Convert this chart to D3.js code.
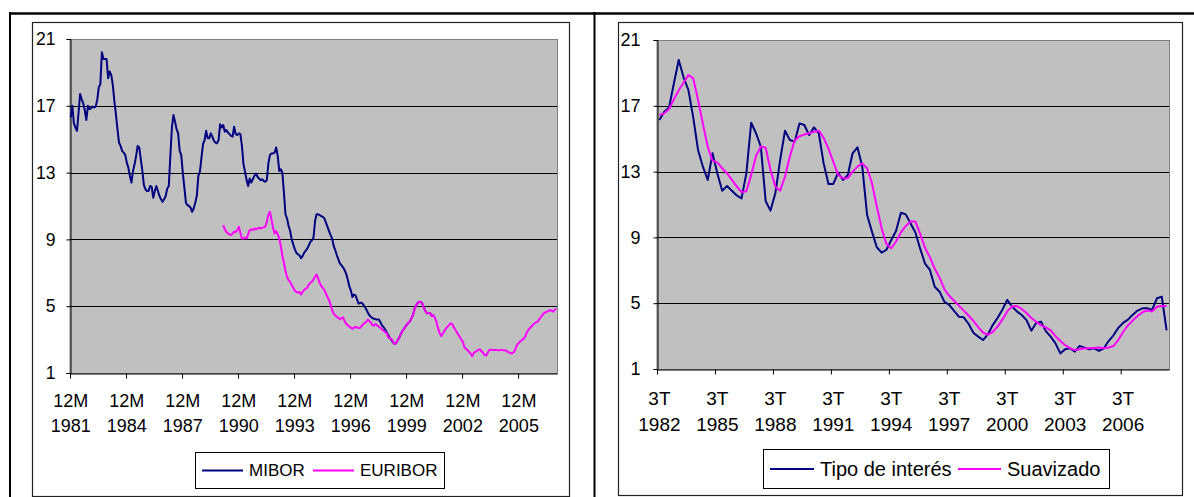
<!DOCTYPE html>
<html>
<head>
<meta charset="utf-8">
<script src="https://cdnjs.cloudflare.com/ajax/libs/d3/7.8.5/d3.min.js"></script>
<style>
  body { margin: 0; background: #fff; }
  svg { display: block; }
  text { font-family: "Liberation Sans", Arial, sans-serif; fill: #000; }
</style>
</head>
<body>
<svg id="c" width="1194" height="497"></svg>
<script>
// Monthly 12-month rates, starting December 1981
const mibor = [
  16.3,17.0,15.95,15.7,15.5,16.6,17.7,17.4,17.15,16.75,16.15,17.0,
  16.8,16.85,16.95,16.9,16.95,17.35,18.1,18.3,20.2,19.8,19.8,19.8,
  18.65,19.05,18.85,18.25,17.3,16.5,15.6,14.8,14.6,14.3,14.2,14.05,
  13.6,13.3,12.8,12.4,13.1,13.5,14.0,14.6,14.5,13.8,13.1,12.25,
  12.0,11.9,11.9,12.2,12.15,11.5,11.9,12.2,11.9,11.6,11.4,11.25,
  11.4,11.6,12.05,12.2,14.0,15.7,16.45,16.05,15.6,15.35,14.3,14.05,
  13.0,12.1,11.2,11.05,11.0,10.9,10.65,10.85,11.2,11.6,12.8,13.05,
  13.9,14.7,14.95,15.5,15.05,15.05,15.35,15.15,14.9,14.8,14.75,14.95,
  15.9,15.7,15.85,15.45,15.55,15.4,15.3,15.2,15.15,15.75,15.3,15.25,
  15.35,15.3,14.6,13.5,13.05,12.55,12.2,12.65,12.4,12.6,12.8,12.95,
  12.75,12.65,12.55,12.6,12.5,12.45,12.55,13.55,14.05,14.15,14.15,14.2,
  14.5,14.0,13.1,13.2,13.0,11.8,10.5,10.25,9.8,9.5,9.0,8.7,
  8.4,8.2,8.1,8.05,7.87,8.0,8.2,8.33,8.45,8.65,8.85,8.95,
  9.1,10.1,10.5,10.5,10.45,10.4,10.35,10.25,10.0,9.75,9.5,9.25,
  9.05,8.6,8.35,8.05,7.8,7.55,7.45,7.33,7.15,6.95,6.6,6.2,
  5.95,5.55,5.7,5.65,5.4,5.15,5.2,5.2,5.1,4.95,4.8,4.6,
  4.45,4.35,4.28,4.25,4.22,4.2,4.2,4.05,3.85,3.75,3.6,3.45,
  3.27,3.1,3.0,2.85,2.74,2.78,2.95,3.1,3.3,3.5,3.62,3.77,
  3.9,4.0,4.1,4.27,4.5,4.85,5.05,5.2,5.27,5.25,5.15,4.9,
  4.7,4.57,4.6,4.58,4.41,4.47
];

// EURIBOR begins 98 months after December 1981
const euriborStart = 98;
const euribor = [
  9.85,9.6,9.45,9.37,9.3,9.26,9.35,9.46,9.45,9.55,
  9.76,9.4,9.06,9.05,9.1,9.06,9.3,9.56,9.6,9.55,9.66,9.6,
  9.65,9.7,9.65,9.7,9.72,9.76,10.06,10.46,10.66,10.2,9.7,9.36,
  9.5,9.3,9.06,8.6,8.0,7.6,7.1,6.75,6.55,6.47,6.25,6.1,
  5.93,5.85,5.81,5.85,5.7,5.85,5.97,6.05,6.1,6.3,6.4,6.47,
  6.6,6.77,6.9,6.65,6.4,6.21,6.1,5.97,5.75,5.55,5.35,5.1,
  4.75,4.55,4.45,4.37,4.3,4.22,4.28,4.33,4.1,3.95,3.85,3.78,
  3.72,3.65,3.7,3.77,3.72,3.7,3.7,3.82,3.93,4.0,4.07,4.2,
  4.1,4.0,3.85,3.85,3.93,3.85,3.77,3.7,3.6,3.55,3.45,3.4,
  3.13,3.1,3.05,2.9,2.74,2.78,2.95,3.1,3.3,3.5,3.62,3.77,
  3.9,4.0,4.1,4.27,4.5,4.85,5.05,5.2,5.27,5.25,5.15,4.9,
  4.7,4.57,4.6,4.58,4.41,4.47,4.3,4.07,3.7,3.4,3.21,3.35,
  3.5,3.65,3.75,3.87,3.97,3.95,3.77,3.6,3.47,3.3,3.17,3.0,
  2.87,2.55,2.45,2.37,2.25,2.17,2.01,2.2,2.27,2.32,2.38,2.42,
  2.3,2.21,2.08,2.05,2.21,2.38,2.4,2.37,2.37,2.37,2.37,2.36,
  2.37,2.37,2.36,2.37,2.32,2.27,2.22,2.17,2.2,2.27,2.5,2.7,
  2.81,2.9,2.97,3.05,3.17,3.4,3.57,3.68,3.77,3.88,3.97,4.03,
  4.07,4.2,4.33,4.45,4.57,4.63,4.67,4.72,4.77,4.73,4.67,4.78,
  4.87
];
const monthCount = euriborStart + euribor.length;

// Quarterly series, starting third quarter 1982
const tipo = [
  16.14,16.64,16.9,18.37,19.78,18.73,17.96,16.3,14.31,13.3,
  12.49,14.11,12.89,11.84,12.12,11.84,11.55,11.37,12.89,15.97,
  15.33,14.52,11.2,10.63,11.68,13.71,15.49,14.92,14.82,15.93,
  15.83,15.22,15.69,15.33,13.5,12.25,12.25,12.93,12.49,12.79,
  14.11,14.48,13.3,10.36,9.35,8.4,8.07,8.25,8.84,9.4,
  10.5,10.4,9.85,9.3,8.3,7.4,7.02,6.0,5.7,5.09,
  4.9,4.54,4.18,4.14,3.75,3.2,2.97,2.76,3.1,3.67,
  4.1,4.6,5.2,4.8,4.5,4.28,3.97,3.33,3.8,3.88,
  3.3,2.97,2.56,1.95,2.2,2.26,2.05,2.4,2.3,2.2,
  2.26,2.1,2.26,2.7,3.05,3.5,3.8,4.0,4.3,4.55,
  4.69,4.69,4.59,5.3,5.4,3.35
];
const suavizado = [
  16.44,16.54,16.8,17.4,17.95,18.4,18.87,18.67,17.35,15.9,
  14.52,13.65,13.56,13.2,12.9,12.5,12.1,11.75,11.8,12.8,
  13.95,14.52,14.45,13.1,12.1,11.84,12.7,13.9,14.9,15.15,
  15.25,15.33,15.42,15.49,15.05,14.4,13.6,12.8,12.6,12.6,
  13.0,13.3,13.5,13.2,12.3,10.9,9.55,8.6,8.34,8.75,
  9.3,9.7,9.96,9.96,9.2,8.35,7.8,7.1,6.55,5.85,
  5.45,5.15,4.85,4.55,4.25,3.93,3.55,3.22,3.08,3.25,
  3.58,4.0,4.5,4.8,4.83,4.65,4.4,4.1,3.87,3.65,
  3.53,3.35,3.0,2.7,2.45,2.27,2.15,2.2,2.26,2.26,
  2.28,2.3,2.26,2.3,2.4,2.76,3.25,3.65,3.95,4.23,
  4.45,4.57,4.5,4.78,4.83,4.83
];

const yTicks = [1, 5, 9, 13, 17, 21];
const monthLabelTop = "12M";
const monthLabelYears = ["1981","1984","1987","1990","1993","1996","1999","2002","2005"];
const quarterLabelTop = "3T";
const quarterLabelYears = ["1982","1985","1988","1991","1994","1997","2000","2003","2006"];

const NAVY = "#000080", MAGENTA = "#FF00FF";
const svg = d3.select("#c");

// page frame lines
const frame = svg.append("g").attr("stroke", "#000").attr("fill", "none");
frame.append("line").attr("x1", 9).attr("x2", 1194).attr("y1", 13.5).attr("y2", 13.5).attr("stroke-width", 2.5);
frame.append("line").attr("x1", 10).attr("x2", 10).attr("y1", 12).attr("y2", 497).attr("stroke-width", 2);
frame.append("line").attr("x1", 594.5).attr("x2", 594.5).attr("y1", 12).attr("y2", 497).attr("stroke-width", 2);

function drawChart(cfg) {
  const g = svg.append("g");
  const p = cfg.plot;

  // chart area
  g.append("rect").attr("x", cfg.area.x + 0.5).attr("y", cfg.area.y + 0.5)
    .attr("width", cfg.area.w).attr("height", cfg.area.h)
    .attr("fill", "#fff").attr("stroke", "#222").attr("stroke-width", 1.2);

  const x = d3.scaleLinear().domain([-0.5, cfg.count - 0.5]).range([p.l, p.r]);
  const y = d3.scaleLinear().domain([1, 21]).range([p.b, p.t]);

  // plot area
  g.append("rect").attr("x", p.l).attr("y", p.t + 0.5)
    .attr("width", p.r - p.l + 0.5).attr("height", p.b - p.t)
    .attr("fill", "#C0C0C0").attr("stroke", "#808080").attr("stroke-width", 1);

  // gridlines
  g.append("g").selectAll("line").data(yTicks.filter(v => v > 1 && v < 21)).join("line")
    .attr("x1", p.l).attr("x2", p.r)
    .attr("y1", d => Math.round(y(d)) + 0.5).attr("y2", d => Math.round(y(d)) + 0.5)
    .attr("stroke", "#000").attr("stroke-width", 1);

  // y axis
  const ya = g.append("g").attr("transform", `translate(${p.l + 0.5},0)`)
    .call(d3.axisLeft(y).tickValues(yTicks).tickSize(4).tickPadding(cfg.yPad).tickFormat(d3.format("d")));
  ya.select(".domain").attr("stroke", "#000");
  ya.selectAll(".tick line").attr("stroke", "#000");
  ya.selectAll(".tick text").attr("font-size", cfg.yFont).attr("font-family", "Liberation Sans, Arial, sans-serif").attr("fill", "#000");

  // x axis: ticks at category boundaries
  const bounds = d3.range(0, cfg.count, cfg.every).map(k => k - 0.5);
  const xa = g.append("g").attr("transform", `translate(0,${p.b + 0.5})`)
    .call(d3.axisBottom(x).tickValues(bounds).tickSize(5).tickSizeOuter(0).tickFormat(""));
  xa.select(".domain").attr("stroke", "#000");
  xa.selectAll(".tick line").attr("stroke", "#000");

  // two-line category labels
  const lab = g.append("g").attr("font-size", cfg.xFont).attr("text-anchor", "middle");
  cfg.years.forEach((yr, j) => {
    const cx = x(j * cfg.every);
    lab.append("text").attr("x", cx).attr("y", cfg.lab1).text(cfg.top);
    lab.append("text").attr("x", cx).attr("y", cfg.lab2).text(yr);
  });

  // series
  const line = d3.line().x(d => x(d[0])).y(d => y(d[1]));
  cfg.series.forEach(s => {
    const pts = s.values.map((v, i) => [i + (s.start || 0), v]);
    g.append("path").datum(pts).attr("d", line)
      .attr("fill", "none").attr("stroke", s.color).attr("stroke-width", s.width)
      .attr("stroke-linejoin", "round");
  });

  // legend
  const L = cfg.legend;
  const lg = g.append("g");
  lg.append("rect").attr("x", L.x + 0.5).attr("y", L.y + 0.5).attr("width", L.w).attr("height", L.h)
    .attr("fill", "#fff").attr("stroke", "#000").attr("stroke-width", 1);
  const cy = L.y + L.h / 2;
  cfg.series.forEach((s, i) => {
    const e = L.items[i];
    lg.append("line").attr("x1", e.x1).attr("x2", e.x2).attr("y1", cy + 0.5).attr("y2", cy + 0.5)
      .attr("stroke", s.color).attr("stroke-width", 2);
    lg.append("text").attr("x", e.tx).attr("y", cy).attr("dy", "0.36em").attr("font-size", L.font).text(s.name);
  });
}

drawChart({
  area: { x: 32, y: 22, w: 537, h: 474 },
  plot: { l: 70, t: 39, r: 557, b: 373 },
  count: monthCount, every: 36, top: monthLabelTop, years: monthLabelYears,
  yPad: 11, yFont: 17.5, xFont: 18, lab1: 407, lab2: 432,
  series: [
    { name: "MIBOR", values: mibor, color: NAVY, width: 2 },
    { name: "EURIBOR", values: euribor, start: euriborStart, color: MAGENTA, width: 2 }
  ],
  legend: { x: 195, y: 452, w: 249, h: 36, font: 17,
    items: [{ x1: 202, x2: 243, tx: 249 }, { x1: 313, x2: 354, tx: 360 }] }
});

drawChart({
  area: { x: 618, y: 22, w: 564, h: 473 },
  plot: { l: 657, t: 40, r: 1169, b: 369 },
  count: tipo.length, every: 12, top: quarterLabelTop, years: quarterLabelYears,
  yPad: 13, yFont: 18, xFont: 19, lab1: 405, lab2: 431,
  series: [
    { name: "Tipo de interés", values: tipo, color: NAVY, width: 2 },
    { name: "Suavizado", values: suavizado, color: MAGENTA, width: 2 }
  ],
  legend: { x: 763, y: 449, w: 346, h: 39, font: 20,
    items: [{ x1: 770, x2: 814, tx: 820 }, { x1: 958, x2: 1001, tx: 1007 }] }
});
</script>
</body>
</html>
